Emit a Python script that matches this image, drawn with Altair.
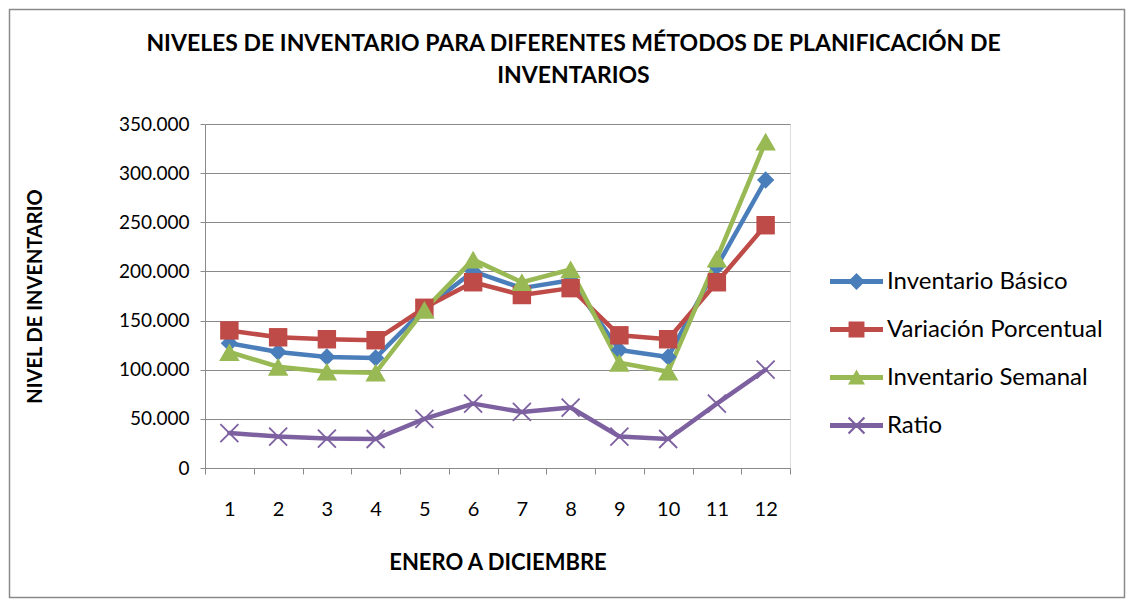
import altair as alt
import pandas as pd

meses = [str(i) for i in range(1, 13)]
series = ["Inventario Básico", "Variación Porcentual", "Inventario Semanal", "Ratio"]
inv_basico = [127000, 118000, 113000, 112000, 162000, 200000, 183000, 191000, 120000, 113000, 205000, 293000]
var_porcentual = [140000, 133000, 131000, 130000, 163000, 189000, 176000, 183000, 135000, 131000, 189000, 247000]
inv_semanal = [118000, 103000, 98000, 97000, 161000, 212000, 189000, 202000, 107000, 98000, 213000, 332000]
ratio = [35500, 32000, 30000, 29500, 50000, 65500, 57000, 61500, 32000, 29500, 65500, 100000]
y_ticks = [0, 50000, 100000, 150000, 200000, 250000, 300000, 350000]

colores = ["#4a7ebb", "#be4b48", "#98b954", "#7d60a0"]

valores = [inv_basico, var_porcentual, inv_semanal, ratio]
rows = []
for s, vals in zip(series, valores):
    for m, v in zip(meses, vals):
        rows.append({"serie": s, "mes": m, "valor": v})
df = pd.DataFrame(rows)

FONT = "Lato"
GRID = "#8a8a8a"

# legend symbols: bar + marker (unit coords, filled)
bar = "M-1,-0.09H1V0.09H-1Z"
leg_paths = [
    bar + " M0,-0.32L0.32,0L0,0.32L-0.32,0Z",
    bar + " M-0.3,-0.3H0.3V0.3H-0.3Z",
    bar + " M0,-0.3L0.32,0.26H-0.32Z",
    bar + " M-0.33,-0.27L-0.27,-0.33L0.33,0.27L0.27,0.33Z M-0.33,0.27L0.27,-0.33L0.33,-0.27L-0.27,0.33Z",
]

color_scale = alt.Scale(domain=series, range=colores)

legend_props = dict(
    title=None, orient="none", legendX=625, legendY=131,
    labelFont=FONT, labelFontSize=24, labelColor="#000", labelOffset=4, labelLimit=400,
    symbolSize=2809, symbolStrokeWidth=0, rowPadding=9,
)

x_enc = alt.X(
    "mes:O", sort=meses, bandPosition=0.5,
    scale=alt.Scale(type="band", paddingInner=0, paddingOuter=0),
    axis=alt.Axis(
        title="ENERO A DICIEMBRE", tickBand="extent", grid=False,
        labelAngle=0, labelFont=FONT, labelFontSize=20, labelColor="#000",
        labelPadding=25, tickSize=6, tickColor=GRID, domainColor=GRID,
        titleFont=FONT, titleFontSize=22, titleFontWeight="bold", titleColor="#000",
        titleX=292.5, titleY=94, titleBaseline="middle", titleAlign="center",
    ),
)
y_enc = alt.Y(
    "valor:Q", scale=alt.Scale(domain=[0, 350000], nice=False),
    axis=alt.Axis(
        title="NIVEL DE INVENTARIO", values=y_ticks,
        labelExpr="datum.value == 0 ? '0' : format(datum.value / 1000, 'd') + '.000'",
        labelFont=FONT, labelFontSize=19, labelColor="#000", labelPadding=11,
        tickSize=5, tickColor=GRID, domainColor=GRID, gridColor=GRID, gridWidth=1.2,
        titleFont=FONT, titleFontSize=20, titleFontWeight="bold", titleColor="#000",
        titleX=-170, titleY=172, titleBaseline="middle", titleAlign="center", titleAngle=-90,
    ),
)
color_enc = alt.Color("serie:N", scale=color_scale, legend=alt.Legend(**legend_props))

base = alt.Chart(df)

legend_layer = (
    base.transform_filter("false")
    .mark_point(filled=True, opacity=1, strokeWidth=0)
    .encode(
        shape=alt.Shape("serie:N", scale=alt.Scale(domain=series, range=leg_paths),
                        legend=alt.Legend(**legend_props)),
        color=color_enc,
    )
)

lines = base.mark_line(strokeWidth=4.5, strokeCap="round", strokeJoin="round").encode(
    x=x_enc, y=y_enc, color=color_enc, detail="serie:N"
)

shapes = ["diamond", "square", "triangle-up"]
sizes = [300, 340, 420]
point_layers = []
for s, sh, sz in zip(series[:3], shapes, sizes):
    point_layers.append(
        base.transform_filter(alt.datum.serie == s)
        .mark_point(filled=True, opacity=1, size=sz, shape=sh, strokeWidth=0)
        .encode(x=x_enc, y=y_enc, color=color_enc)
    )
point_layers.append(
    base.transform_filter(alt.datum.serie == series[3])
    .mark_point(filled=False, opacity=1, size=324, shape="M-1,-1L1,1M-1,1L1,-1", strokeWidth=1.8)
    .encode(x=x_enc, y=y_enc, color=color_enc)
)

border = alt.Chart(pd.DataFrame({"k": [0]})).mark_rect(
    fill="transparent", stroke="#8a8a8a", strokeWidth=1.5
).encode(
    x=alt.value(-195.5), x2=alt.value(919.5), y=alt.value(-114.5), y2=alt.value(473.5)
)

chart = alt.layer(legend_layer, border, lines, *point_layers).properties(
    width=585, height=344,
    autosize=alt.AutoSizeParams(type="none"),
    padding={"left": 197, "top": 116, "right": 336, "bottom": 131},
    title=alt.TitleParams(
        text=["NIVELES DE INVENTARIO PARA DIFERENTES MÉTODOS DE PLANIFICACIÓN DE", "INVENTARIOS"],
        font=FONT, fontSize=23, fontWeight="bold", color="#000",
        anchor="middle", frame="group", dx=76, dy=113, lineHeight=32, offset=34,
    ),
).configure_view(stroke=None).configure(background="white")

chart.save("out.html", embed_options={"renderer": "svg", "actions": False})
